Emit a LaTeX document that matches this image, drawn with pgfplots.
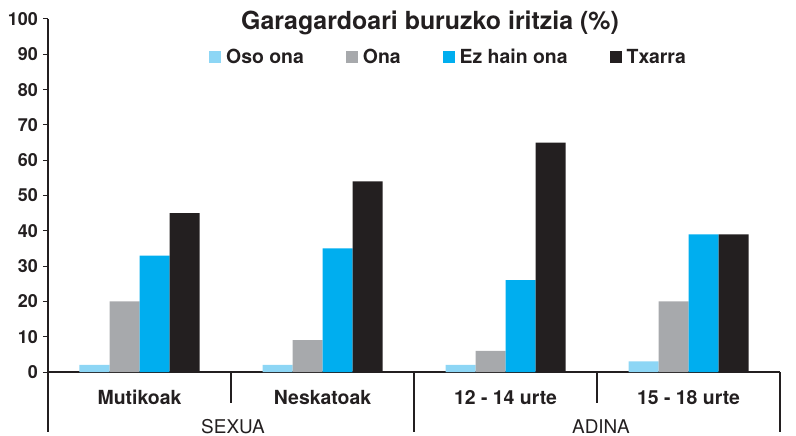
\documentclass[border=0pt]{standalone}
\usepackage{fontspec}
\setmainfont{TeX Gyre Heros}
\usepackage{pgfplots}
\pgfplotsset{compat=1.18}
\definecolor{c1}{HTML}{8DD6F5}
\definecolor{c2}{HTML}{A7A9AC}
\definecolor{c3}{HTML}{00AEEF}
\definecolor{c4}{HTML}{231F20}
\definecolor{ink}{HTML}{231F20}
\begin{document}
\begin{tikzpicture}
\path[use as bounding box] (0,0) rectangle (796bp,436bp);
\begin{axis}[
  at={(48bp,64bp)}, anchor=south west,
  scale only axis, width=732bp, height=353bp,
  ybar=0pt, bar width=30bp,
  xmin=-0.5, xmax=3.5, ymin=0, ymax=100,
  enlargelimits=false,
  axis x line=bottom, axis y line=left,
  axis line style={-, line width=1.2bp, draw=ink},
  xtick={0,1,2,3},
  xticklabels={Mutikoak,Neskatoak,12 - 14 urte,15 - 18 urte},
  xtick style={draw=none},
  xticklabel style={font=\bfseries\fontsize{19.5}{20}\selectfont, text=ink, anchor=base, yshift=-27bp},
  ytick={0,10,...,100},
  ytick style={draw=ink, line width=1bp},
  tick align=outside, major tick length=5bp,
  yticklabel style={font=\bfseries\fontsize{18}{19}\selectfont, text=ink, anchor=east, inner sep=0pt, xshift=-5bp},
  /pgf/number format/assume math mode=true,
  clip=false,
  legend columns=4,
  legend image code/.code={\fill[#1] (0bp,-6bp) rectangle (12bp,6bp);},
  legend style={draw=none, fill=none, at={(0.2199,0.8924)}, anchor=west, inner sep=0pt,
    font=\bfseries\fontsize{19.5}{20}\selectfont, text=ink,
    nodes={inner sep=0pt},
    /tikz/every odd column/.append style={column sep=5bp},
    /tikz/every even column/.append style={column sep=42bp}},
]
\addplot[fill=c1, draw=none] coordinates {(0,2) (1,2) (2,2) (3,3)};
\addplot[fill=c2, draw=none] coordinates {(0,20) (1,9) (2,6) (3,20)};
\addplot[fill=c3, draw=none] coordinates {(0,33) (1,35) (2,26) (3,39)};
\addplot[fill=c4, draw=none] coordinates {(0,45) (1,54) (2,65) (3,39)};
\legend{Oso ona, Ona, Ez hain ona, Txarra}
\draw[ink, line width=1.2bp] (axis cs:-0.5,0) -- ([yshift=-60bp]axis cs:-0.5,0);
\draw[ink, line width=1.2bp] (axis cs:0.5,0) -- ([yshift=-31bp]axis cs:0.5,0);
\draw[ink, line width=1.2bp] (axis cs:1.5,0) -- ([yshift=-60bp]axis cs:1.5,0);
\draw[ink, line width=1.2bp] (axis cs:2.5,0) -- ([yshift=-31bp]axis cs:2.5,0);
\draw[ink, line width=1.2bp] (axis cs:3.5,0) -- ([yshift=-60bp]axis cs:3.5,0);
\end{axis}
\node[anchor=base, font=\bfseries\fontsize{25}{26}\selectfont, text=ink] at (430bp,406bp) {Garagardoari buruzko iritzia (\%)};
\node[anchor=base, font=\fontsize{19}{20}\selectfont, text=ink] at (233bp,3bp) {SEXUA};
\node[anchor=base, font=\fontsize{19}{20}\selectfont, text=ink] at (601bp,3bp) {ADINA};
\end{tikzpicture}
\end{document}
